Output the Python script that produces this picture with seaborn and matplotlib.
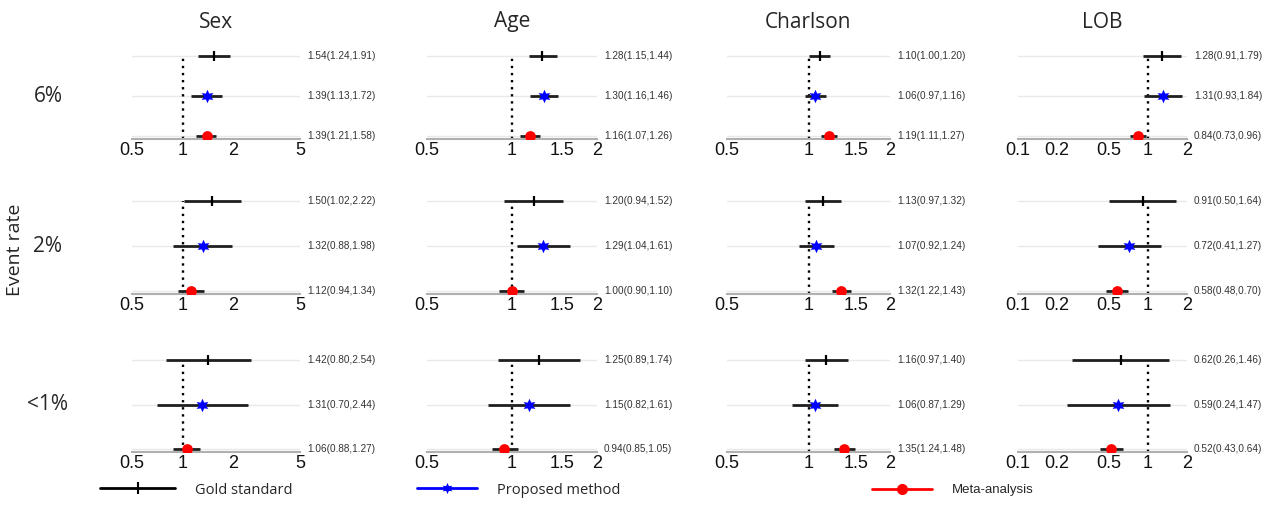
import matplotlib
matplotlib.use("Agg")
import matplotlib.pyplot as plt
import seaborn as sns
import pandas as pd
from matplotlib.lines import Line2D
from matplotlib.ticker import NullLocator

# ---- data ----
covariates = ["Sex", "Age", "Charlson", "LOB"]
event_rates = ["6%", "2%", "<1%"]
methods = ["Gold standard", "Proposed method", "Meta-analysis"]

# order inside each list: 6% (gold, proposed, meta), 2% (...), <1% (...)
sex_est = [1.54, 1.39, 1.39, 1.50, 1.32, 1.12, 1.42, 1.31, 1.06]
sex_low = [1.24, 1.13, 1.21, 1.02, 0.88, 0.94, 0.80, 0.70, 0.88]
sex_high = [1.91, 1.72, 1.58, 2.22, 1.98, 1.34, 2.54, 2.44, 1.27]

age_est = [1.28, 1.30, 1.16, 1.20, 1.29, 1.00, 1.25, 1.15, 0.94]
age_low = [1.15, 1.16, 1.07, 0.94, 1.04, 0.90, 0.89, 0.82, 0.85]
age_high = [1.44, 1.46, 1.26, 1.52, 1.61, 1.10, 1.74, 1.61, 1.05]

charlson_est = [1.10, 1.06, 1.19, 1.13, 1.07, 1.32, 1.16, 1.06, 1.35]
charlson_low = [1.00, 0.97, 1.11, 0.97, 0.92, 1.22, 0.97, 0.87, 1.24]
charlson_high = [1.20, 1.16, 1.27, 1.32, 1.24, 1.43, 1.40, 1.29, 1.48]

lob_est = [1.28, 1.31, 0.84, 0.91, 0.72, 0.58, 0.62, 0.59, 0.52]
lob_low = [0.91, 0.93, 0.73, 0.50, 0.41, 0.48, 0.26, 0.24, 0.43]
lob_high = [1.79, 1.84, 0.96, 1.64, 1.27, 0.70, 1.46, 1.47, 0.64]

xlims = {"Sex": (0.5, 5), "Age": (0.5, 2), "Charlson": (0.5, 2), "LOB": (0.1, 2)}
xticks = {"Sex": [0.5, 1, 2, 5], "Age": [0.5, 1, 1.5, 2],
          "Charlson": [0.5, 1, 1.5, 2], "LOB": [0.1, 0.2, 0.5, 1, 2]}

series = {"Sex": (sex_est, sex_low, sex_high),
          "Age": (age_est, age_low, age_high),
          "Charlson": (charlson_est, charlson_low, charlson_high),
          "LOB": (lob_est, lob_low, lob_high)}

rows = []
for cov in covariates:
    est, low, high = series[cov]
    for i, (e, l, h) in enumerate(zip(est, low, high)):
        rows.append({"covariate": cov, "rate": event_rates[i // 3],
                     "method": methods[i % 3], "est": e, "low": l, "high": h,
                     "ypos": 2 - (i % 3)})
df = pd.DataFrame(rows)

styles = {"Gold standard": dict(marker="|", color="black", s=55, linewidth=1.6),
          "Proposed method": dict(marker=(6, 1, 0), color="#0000ff", s=95, linewidth=0),
          "Meta-analysis": dict(marker="o", color="#ff0000", s=60, linewidth=0)}

# ---- layout (pixel positions of the reference) ----
W, H = 1275, 509
col_px = [(132, 300), (427, 597), (727, 890), (1018, 1187)]
row_px = [(56, 136), (201, 291), (360, 449)]  # gold row y, meta row y
ylo, yhi = -0.07, 2.3

sns.set_style("white")
plt.rcParams["font.family"] = ["Liberation Sans", "DejaVu Sans"]

fig = plt.figure(figsize=(W / 100, H / 100), dpi=100)

for r, rate in enumerate(event_rates):
    gy, my = row_px[r]
    unit = (my - gy) / 2
    bottom = my - ylo * unit
    top = gy - (yhi - 2) * unit
    for c, cov in enumerate(covariates):
        x0, x1 = col_px[c]
        ax = fig.add_axes([x0 / W, 1 - bottom / H, (x1 - x0) / W, (bottom - top) / H])
        sub = df[(df.covariate == cov) & (df.rate == rate)]
        ax.set_xscale("log")
        for y in sub.ypos:
            ax.axhline(y, color="#e9e9e9", lw=1, zorder=0)
        ax.vlines(1, ylo, 2, color="black", ls=(0, (1, 2)), lw=1.7, zorder=1)
        ax.hlines(sub.ypos, sub.low, sub.high, color="#1f1f1f", lw=2.0, zorder=2)
        for m in methods:
            sns.scatterplot(data=sub[sub.method == m], x="est", y="ypos", ax=ax,
                            zorder=3, legend=False, **styles[m])
        for _, row in sub.iterrows():
            ax.annotate(f"{row.est:.2f}({row.low:.2f},{row.high:.2f})",
                        xy=(1, row.ypos), xycoords=("axes fraction", "data"),
                        xytext=(5, 0), textcoords="offset points",
                        va="center", ha="left", fontsize=7.2, color="#333333")
        ax.set_xlim(*xlims[cov])
        ax.set_ylim(ylo, yhi)
        ax.set_xticks(xticks[cov])
        ax.set_xticklabels([f"{t:g}" for t in xticks[cov]])
        ax.xaxis.set_minor_locator(NullLocator())
        ax.set_yticks([])
        ax.set_xlabel("")
        ax.set_ylabel("")
        for s in ["top", "left", "right"]:
            ax.spines[s].set_visible(False)
        ax.spines["bottom"].set_color("#b0b0b0")
        ax.spines["bottom"].set_linewidth(1.5)
        ax.tick_params(axis="x", direction="in", length=3, color="#999999",
                       labelsize=13, pad=2, labelcolor="#111111")
        if r == 0:
            fig.text((x0 + x1) / 2 / W, 1 - 22 / H, cov, ha="center", va="center",
                     fontsize=15, family="Open Sans")
    fig.text(48 / W, 1 - (gy + unit) / H, rate, ha="center", va="center",
             fontsize=15, family="Open Sans")

fig.text(15 / W, 1 - 250 / H, "Event rate", rotation=90, ha="center", va="center",
         fontsize=14, family="Open Sans")

# ---- legend ----
legend_spec = [("Gold standard", "black", "|", 100, 75, "Open Sans", 10.5),
               ("Proposed method", "#0000ff", (6, 1, 0), 417, 60, "Open Sans", 10.5),
               ("Meta-analysis", "#ff0000", "o", 872, 60, "Liberation Sans", 9.5)]
for label, color, marker, xpx, hlen, fam, fs in legend_spec:
    h = Line2D([], [], color=color, lw=2, marker=marker, markersize=8,
               markeredgewidth=1.5 if marker == "|" else 0)
    em = fs * 100 / 72
    fig.legend([h], [label], loc="center left", bbox_to_anchor=(xpx / W, 1 - 490 / H),
               frameon=False, borderpad=0, borderaxespad=0,
               handlelength=hlen / em, handletextpad=20 / em,
               prop={"family": fam, "size": fs})

fig.savefig("out.png", dpi=100)
